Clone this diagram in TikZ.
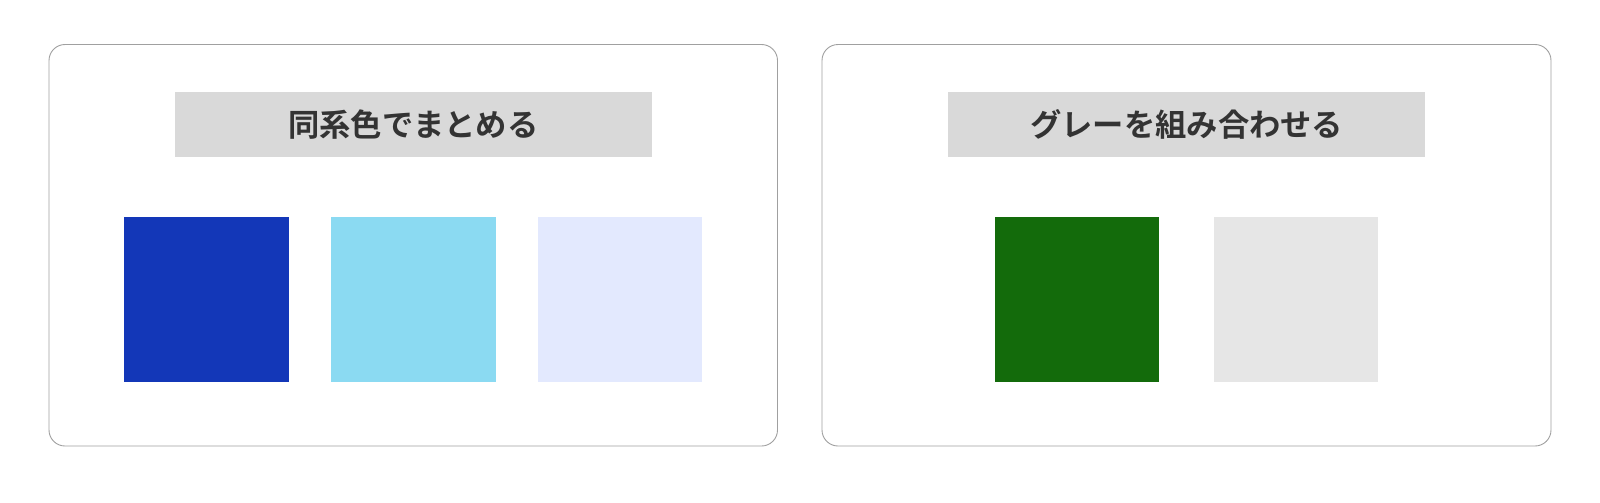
\documentclass[tikz,border=0pt]{standalone}
\usepackage{fontspec}
\newfontfamily\jpfont{Noto Sans CJK JP}[BoldFont={* Bold}]
\definecolor{frame}{HTML}{A0A0A0}
\definecolor{hdr}{HTML}{D9D9D9}
\definecolor{txt}{HTML}{333333}
\definecolor{cblue}{HTML}{1337B8}
\definecolor{csky}{HTML}{8BDAF2}
\definecolor{cpale}{HTML}{E3E9FE}
\definecolor{cgreen}{HTML}{136B0B}
\definecolor{cgray}{HTML}{E6E6E6}
\tikzset{
  panel/.style={draw=frame, line width=0.9pt, rounded corners=16pt, fill=white},
  header/.style={fill=hdr, draw=none, minimum width=476.7pt, minimum height=65.6pt, inner sep=0pt,
    font=\jpfont\bfseries\fontsize{31.3}{38}\selectfont, text=txt},
  swatch/.style={draw=none, minimum width=164.5pt, minimum height=164.7pt, inner sep=0pt},
}
\begin{document}
\begin{tikzpicture}[x=1pt,y=-1pt]
\useasboundingbox (0,0) rectangle (1600,503);
\fill[white] (0,0) rectangle (1600,503);
\draw[panel] (49,44.5) rectangle (777.5,446);
\draw[panel] (822,44.5) rectangle (1551,446);
\node[header] (h1) at (413.3,124.5) {\raisebox{-1.5pt}{同系色でまとめる}};
\node[header] (h2) at (1186.7,124.5) {\raisebox{-1.5pt}{グレーを組み合わせる}};
\node[swatch, fill=cblue] (s1) at (206.5,299.6) {};
\node[swatch, fill=csky] (s2) at (413.5,299.6) {};
\node[swatch, fill=cpale] (s3) at (620,299.6) {};
\node[swatch, fill=cgreen] (s4) at (1077.2,299.6) {};
\node[swatch, fill=cgray] (s5) at (1296,299.6) {};
\end{tikzpicture}
\end{document}
